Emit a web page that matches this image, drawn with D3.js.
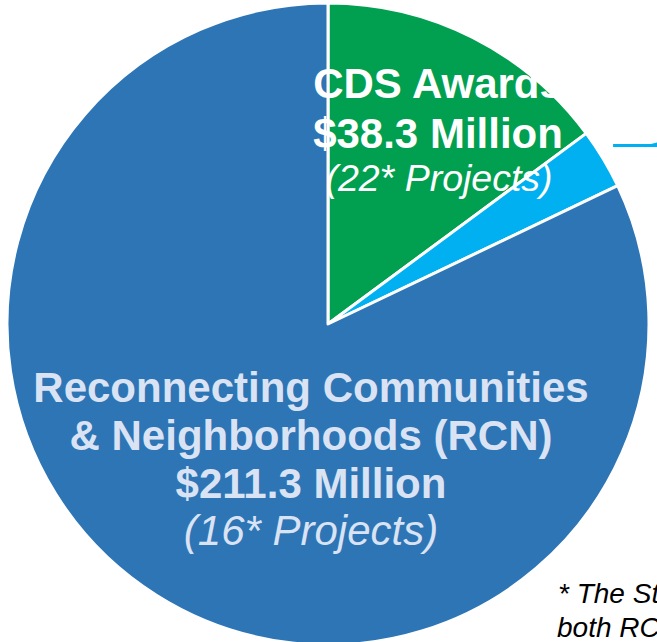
<!DOCTYPE html>
<html>
<head>
<meta charset="utf-8">
<script src="https://cdn.jsdelivr.net/npm/d3@7"></script>
<style>
  body { margin: 0; background: #fff; }
  svg { display: block; font-family: "Liberation Sans", Arial, sans-serif; }
</style>
</head>
<body>
<div id="chart"></div>
<script>
// funding by program, $ millions (third slice's label sits off the picture)
var programs = ["CDS Awards", "Other", "Reconnecting Communities & Neighborhoods (RCN)"];
var amounts = [38.3, 7.8, 211.3];
var projects = [22, null, 16];
var colors = ["#00A050", "#00B0F0", "#2E75B6"];

var width = 657, height = 642;
var cx = 328, cy = 324, radius = 321;

var svg = d3.select("#chart").append("svg")
    .attr("width", width)
    .attr("height", height);

var g = svg.append("g")
    .attr("transform", "translate(" + cx + "," + cy + ")");

var pie = d3.pie().sort(null).value(d => d.amount);
var data = programs.map((p, i) => ({ name: p, amount: amounts[i], projects: projects[i], color: colors[i] }));
var arcs = pie(data);

var arc = d3.arc().innerRadius(0).outerRadius(radius);

g.selectAll("path.slice")
    .data(arcs)
  .enter().append("path")
    .attr("class", "slice")
    .attr("d", arc)
    .style("fill", d => d.data.color)
    .style("stroke", "#fff")
    .style("stroke-width", 3)
    .style("stroke-linejoin", "round");

// leader line for the small slice, its label is off to the right
var small = arcs[1];
var a = small.startAngle + 0.4 * (small.endAngle - small.startAngle);
var lx = Math.sin(a) * radius * 1.048, ly = -Math.cos(a) * radius * 1.048;
g.append("line")
    .attr("x1", lx).attr("y1", ly)
    .attr("x2", width - cx + 10).attr("y2", ly)
    .style("stroke", colors[1])
    .style("stroke-width", 3);
g.append("line")
    .attr("x1", lx + 32).attr("y1", ly + 1)
    .attr("x2", lx + 80).attr("y2", ly - 10)
    .style("stroke", colors[1])
    .style("stroke-width", 2);

// CDS label
var cds = g.append("text")
    .attr("text-anchor", "middle")
    .style("fill", "#fff");
cds.append("tspan").attr("x", 110).attr("y", -226)
    .style("font-weight", "bold").style("font-size", "42px")
    .text("CDS Awards");
cds.append("tspan").attr("x", 110).attr("y", -176)
    .style("font-weight", "bold").style("font-size", "42px")
    .text("$" + amounts[0] + " Million");
cds.append("tspan").attr("x", 111).attr("y", -133)
    .style("font-style", "italic").style("font-size", "37.5px")
    .text("(" + projects[0] + "* Projects)");

// RCN label
var rcn = g.append("text")
    .attr("text-anchor", "middle")
    .style("fill", "#DAE3F3");
rcn.append("tspan").attr("x", -17).attr("y", 78)
    .style("font-weight", "bold").style("font-size", "42px")
    .text("Reconnecting Communities");
rcn.append("tspan").attr("x", -17).attr("y", 126)
    .style("font-weight", "bold").style("font-size", "42px")
    .text("& Neighborhoods (RCN)");
rcn.append("tspan").attr("x", -17).attr("y", 174)
    .style("font-weight", "bold").style("font-size", "42px")
    .text("$" + amounts[2] + " Million");
rcn.append("tspan").attr("x", -17).attr("y", 221)
    .style("font-style", "italic").style("font-size", "42px")
    .text("(" + projects[2] + "* Projects)");

// footnote, cut by the edge of the picture like in the source
var note = svg.append("text")
    .style("font-style", "italic")
    .style("font-size", "28px")
    .style("fill", "#000");
note.append("tspan").attr("x", 558).attr("y", 603).text("* The St");
note.append("tspan").attr("x", 557).attr("y", 637).text("both RC");
</script>
</body>
</html>
